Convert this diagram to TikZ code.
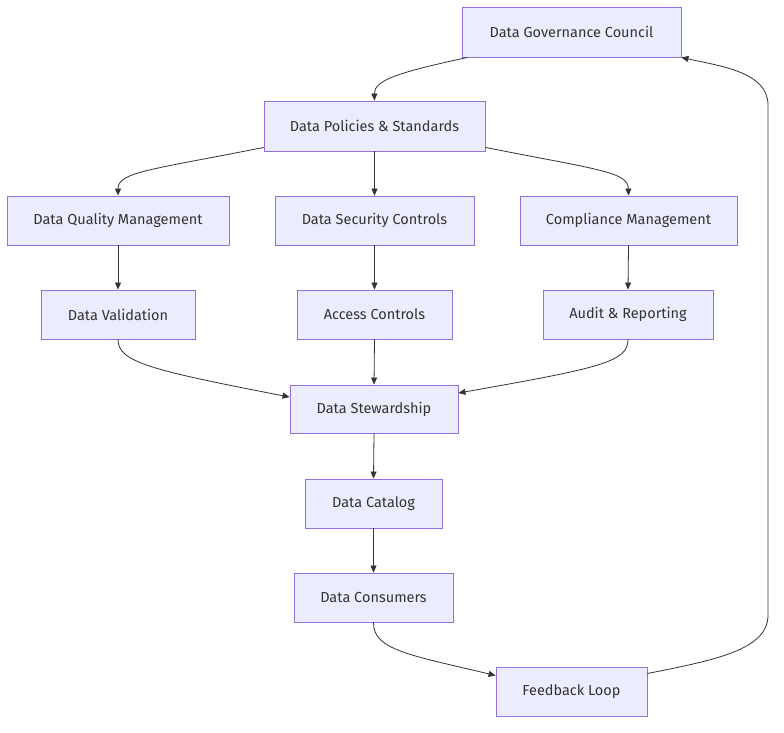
\documentclass[tikz,border=0pt]{standalone}
\usepackage{fontspec}
\setmainfont{Fira Sans}
\usetikzlibrary{arrows.meta}
\definecolor{boxfill}{HTML}{ECECFF}
\definecolor{boxline}{HTML}{9370DB}
\definecolor{txt}{HTML}{333333}
\definecolor{edge}{HTML}{333333}
\begin{document}
\begin{tikzpicture}[x=1pt,y=-1pt,
  box/.style={draw=boxline,fill=boxfill,line width=0.9pt,text=txt,font=\fontsize{14.5}{17}\selectfont,inner sep=0pt,anchor=center},
  link/.style={draw=edge,line width=0.8pt,-{Triangle[length=7pt,width=6pt]}}]
\useasboundingbox[fill=white] (0,0) rectangle (784,732);
\node[box,minimum width=219,minimum height=50] (gov) at (571.5,32) {Data Governance Council};
\node[box,minimum width=221,minimum height=50] (pol) at (374.5,126) {Data Policies \& Standards};
\node[box,minimum width=222,minimum height=49] (dqm) at (118,220.5) {Data Quality Management};
\node[box,minimum width=199,minimum height=49] (dsc) at (374.5,220.5) {Data Security Controls};
\node[box,minimum width=217,minimum height=49] (cm) at (628.5,220.5) {Compliance Management};
\node[box,minimum width=154,minimum height=49] (dv) at (118,314.5) {Data Validation};
\node[box,minimum width=155,minimum height=49] (ac) at (374.5,314.5) {Access Controls};
\node[box,minimum width=170,minimum height=49] (ar) at (628,314.5) {Audit \& Reporting};
\node[box,minimum width=168,minimum height=48] (ds) at (374,409) {Data Stewardship};
\node[box,minimum width=137,minimum height=49] (dc) at (373.5,503.5) {Data Catalog};
\node[box,minimum width=159,minimum height=49] (cons) at (373.5,597.5) {Data Consumers};
\node[box,minimum width=151,minimum height=49] (fl) at (571.5,691.5) {Feedback Loop};

\draw[link] ([xshift=-104]gov.south) .. controls (400,72) and (374,80) .. (pol.north);
\draw[link] ([yshift=4]pol.south west) .. controls (150,170) and (118,172) .. (dqm.north);
\draw[link] (pol.south) -- (dsc.north);
\draw[link] ([yshift=4]pol.south east) .. controls (600,170) and (628,172) .. (cm.north);
\draw[link] (dqm.south) -- (dv.north);
\draw[link] (dsc.south) -- (ac.north);
\draw[link] (cm.south) -- (ar.north);
\draw[link] (dv.south) .. controls (118,362) and (150,370) .. ([yshift=12]ds.west);
\draw[link] (ac.south) -- (ds.north);
\draw[link] (ar.south) .. controls (628,362) and (600,368) .. ([yshift=16]ds.east);
\draw[link] (ds.south) -- (dc.north);
\draw[link] (dc.south) -- (cons.north);
\draw[link] (cons.south) .. controls (373,650) and (410,655) .. ([yshift=16]fl.west);
\draw[link] ([yshift=18]fl.east) .. controls (715,660) and (768,650) .. (768,615) -- (768,105) .. controls (768,72) and (720,66) .. (gov.south east);
\end{tikzpicture}
\end{document}
